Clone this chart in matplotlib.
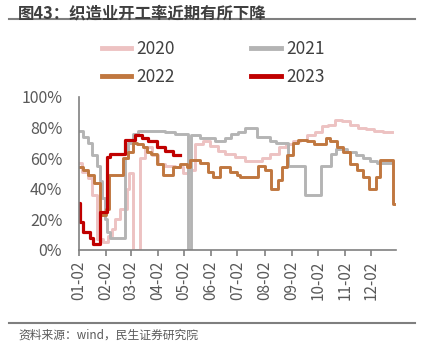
import matplotlib
matplotlib.use("Agg")
import matplotlib.pyplot as plt
import pandas as pd
from matplotlib.lines import Line2D

plt.rcParams['font.family'] = ['Noto Sans CJK SC', 'DejaVu Sans']

# DATA. days counted from Jan 02, values in %
base = pd.Timestamp('2001-01-02')
tick_labels = ['01-02', '02-02', '03-02', '04-02', '05-02', '06-02',
               '07-02', '08-02', '09-02', '10-02', '11-02', '12-02']

d2020 = [0, 3, 10, 15, 21, 27, 33, 38, 41, 47, 55, 57, 62, 70, 75, 83, 90, 98,
         110, 119, 125, 133, 142, 150, 159, 167, 178, 190, 201, 209, 218, 228,
         236, 244, 253, 261, 270, 278, 284, 293, 301, 310, 319, 328, 337, 347, 358]
v2020 = [57, 51, 47, 36, 7, 5, 9, 14, 20, 27, 40, 50, 0, 60, 67, 62, 56, 55,
         54, 50, 52, 69, 71, 68, 65, 63, 61, 58, 58, 60, 63, 67,
         69, 71, 72, 75, 77, 81, 82, 85, 84, 82, 80, 79, 78, 77, 77]

d2021 = [0, 5, 10, 15, 21, 24, 26, 30, 32, 35, 53, 56, 62, 68, 98, 110, 125, 128,
         138, 155, 167, 174, 182, 190, 203, 218, 225, 239, 258, 264, 277, 288,
         294, 306, 316, 325, 333, 341, 358]
v2021 = [78, 74, 70, 62, 55, 45, 34, 20, 12, 8, 60, 70, 76, 78, 77, 76, 0, 75,
         73, 71, 73, 76, 77, 80, 74, 71, 70, 55, 36, 36, 55, 63,
         66, 64, 62, 60, 58, 57, 57]

d2022 = [0, 5, 10, 17, 24, 31, 34, 50, 56, 62, 66, 73, 78, 82, 89, 96, 108, 116,
         124, 127, 138, 147, 153, 161, 173, 181, 184, 204, 213, 219, 227, 232,
         238, 244, 250, 261, 268, 282, 287, 295, 302, 310, 318, 325, 331, 339,
         344, 359, 360]
v2022 = [54, 52, 49, 44, 23, 27, 49, 60, 64, 70, 69, 67, 64, 63, 56, 49, 54, 56,
         54, 59, 57, 51, 48, 54, 51, 49, 48, 55, 52, 40, 46, 54,
         62, 70, 72, 71, 69, 73, 71, 67, 64, 56, 52, 48, 40, 48,
         59, 30, 30]

d2023 = [0, 1, 5, 13, 16, 24, 32, 35, 53, 64, 72, 79, 89, 98, 108, 116]
v2023 = [31, 18, 12, 8, 4, 25, 61, 63, 72, 75, 73, 71, 67, 65, 62, 62]

series = [('2020', d2020, v2020, '#EDC2C2', 2.1),
          ('2021', d2021, v2021, '#B4B4B4', 2.1),
          ('2022', d2022, v2022, '#C0773F', 2.1),
          ('2023', d2023, v2023, '#C00000', 2.3)]

# PLOT.
fig = plt.figure(figsize=(4.22, 3.54), dpi=100)
ax = fig.add_axes([0.187, 0.294, 0.751, 0.432])

handles = {}
for name, d, v, c, lw in series:
    ax.plot(d, v, drawstyle='steps-post', color=c, lw=lw)
    handles[name] = Line2D([], [], color=c, lw=3.5)

ticks = [(pd.Timestamp('2001-%s' % t) - base).days for t in tick_labels]
ax.set_xticks(ticks)
ax.set_xticklabels(tick_labels, rotation=90, fontsize=11, color='#595959')
ax.set_xlim(0, 362)
ax.set_ylim(0, 100)
ax.set_yticks(range(0, 101, 20))
ax.set_yticklabels(['%d%%' % y for y in range(0, 101, 20)], fontsize=11.5, color='#595959')

for s in ['top', 'right']:
    ax.spines[s].set_visible(False)
for s in ['left', 'bottom']:
    ax.spines[s].set_color('#808080')
    ax.spines[s].set_linewidth(1.2)
ax.tick_params(axis='y', length=0, pad=12)
ax.tick_params(axis='x', length=4, width=1.2, color='#808080', pad=4)

order = ['2020', '2022', '2021', '2023']
fig.legend([handles[k] for k in order], order, ncol=2, loc='center',
           bbox_to_anchor=(0.505, 0.822), frameon=False, fontsize=12.5,
           handlelength=1.7, columnspacing=4.4, labelspacing=0.62,
           handletextpad=0.3, labelcolor='#404040')

fig.text(0.043, 0.963, '图43：织造业开工率近期有所下降', fontsize=11.8,
         fontweight='bold', color='#3f3f3f', va='center')
fig.add_artist(Line2D([0.021, 0.983], [0.945, 0.945], color='#7f7f7f', lw=1.5))
fig.add_artist(Line2D([0.021, 0.983], [0.088, 0.088], color='#7f7f7f', lw=1.5))
fig.text(0.043, 0.054, '资料来源：wind，民生证券研究院', fontsize=8.5,
         color='#595959', va='center')

plt.savefig('out.png', dpi=100)
